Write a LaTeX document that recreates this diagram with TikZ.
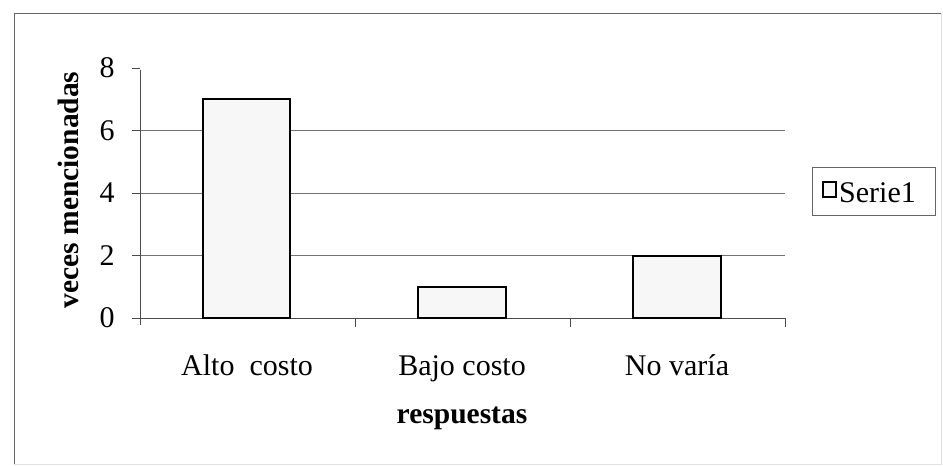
\documentclass[tikz,border=0pt]{standalone}
\usepackage{fontspec}
\setmainfont{Liberation Serif}
\begin{document}
\begin{tikzpicture}[x=1pt,y=-1pt,
  lbl/.style={font=\fontsize{30}{33}\selectfont, inner sep=0pt},
  blbl/.style={font=\fontsize{29.5}{33}\selectfont\bfseries, inner sep=0pt},
  bar/.style={draw=black, line width=2pt, fill=black!3},
  grid/.style={draw=black!55, line width=0.8pt},
  axis/.style={draw=black!70, line width=1pt}]
\useasboundingbox (0,0) rectangle (943,466);
% outer frame
\draw[black!60, line width=1pt] (14,464) -- (14,13) -- (941,13);
\draw[black!12, line width=0.8pt] (941,13) -- (941,464) -- (14,464);
% gridlines
\foreach \v in {2,4,6} \draw[grid] (140,{318-\v*31.25}) -- (785,{318-\v*31.25});
% axes
\coordinate (o) at (140,318);
\coordinate (ytop) at (140,70);
\coordinate (xend) at (785,318);
\draw[axis] (ytop) -- (140,325);
\draw[axis] (o) -- (xend);
\foreach \v in {0,2,4,6,8} {
  \draw[axis] (132,{318-\v*31.25}) -- (140,{318-\v*31.25});
  \node[lbl] (t\v) at (107,{318-\v*31.25}) {\v};
}
\foreach \x in {355,570,785} \draw[axis] (\x,318) -- (\x,327);
% bars
\draw[bar] (203,318) rectangle (290,{318-7*31.25});
\draw[bar] (418,318) rectangle (506,{318-1*31.25});
\draw[bar] (633,318) rectangle (721,{318-2*31.25});
% category labels
\node[lbl, anchor=base] (c1) at (247,375) {Alto\ \ costo};
\node[lbl, anchor=base] (c2) at (462,375) {Bajo costo};
\node[lbl, anchor=base] (c3) at (677,375) {No varía};
\node[blbl, anchor=base] (xl) at (462,423) {respuestas};
\node[blbl, rotate=90] (yl) at (68,190) {veces mencionadas};
% legend
\draw[black!60, line width=0.8pt] (812,167) rectangle (935,215);
\draw[black, line width=1.5pt, fill=black!3] (823,182) rectangle (836,197);
\node[lbl, anchor=base west] (leg) at (839,202) {Serie1};
\end{tikzpicture}
\end{document}
